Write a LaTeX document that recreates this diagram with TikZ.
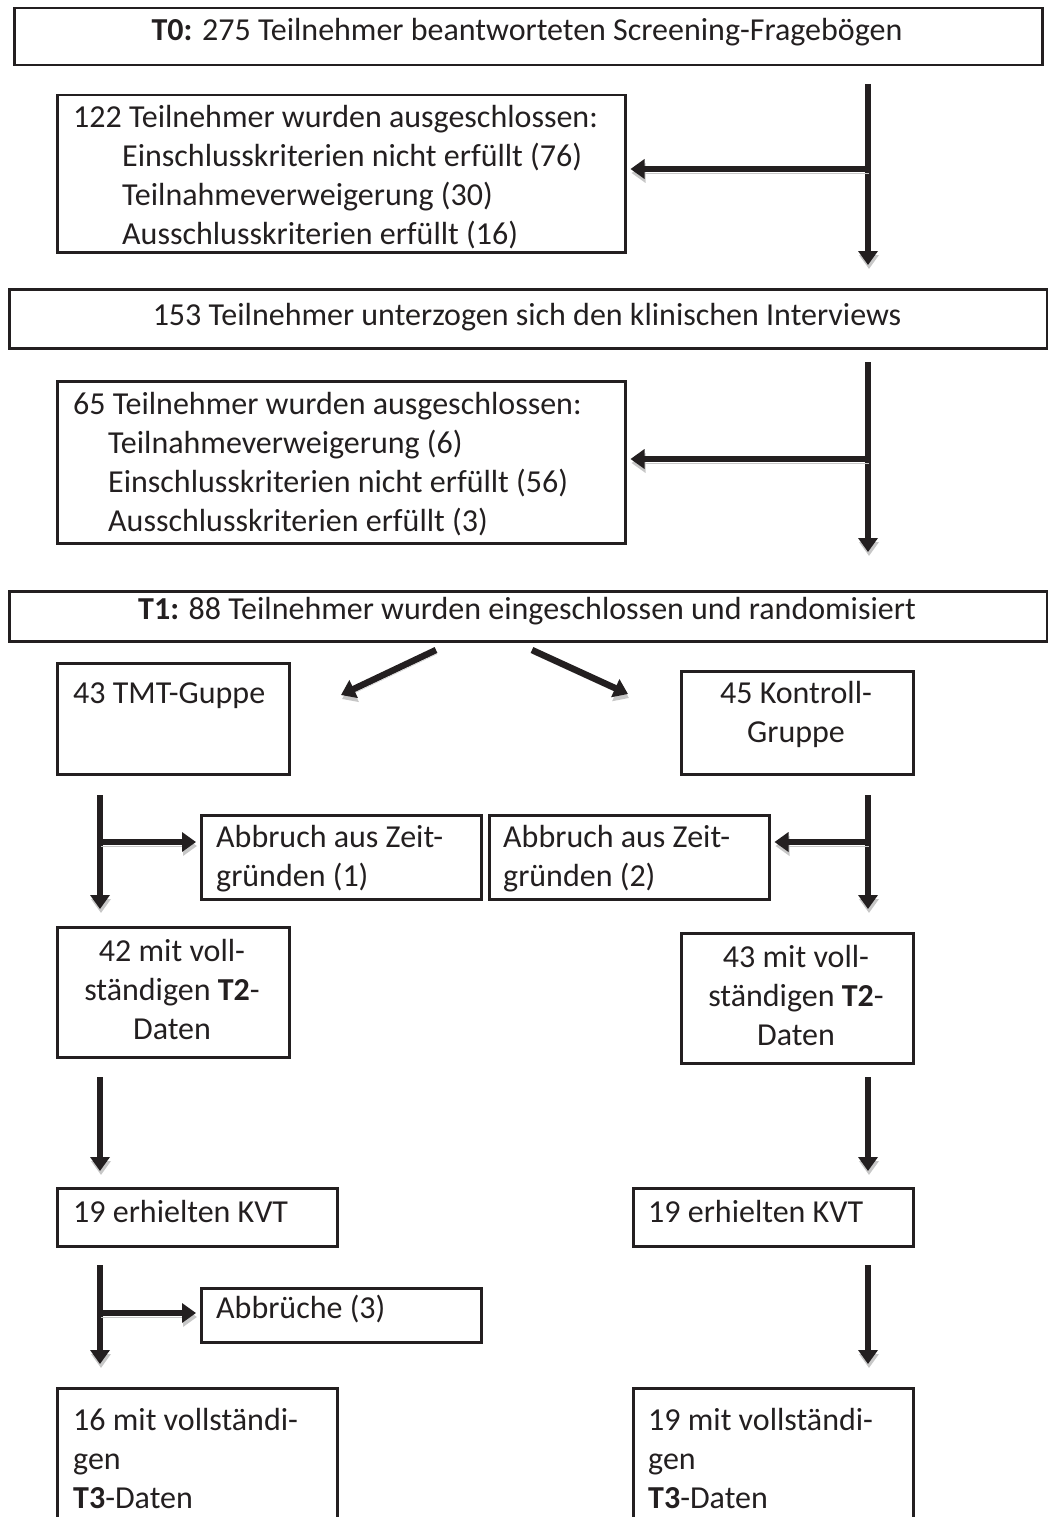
\documentclass[tikz,border=0pt]{standalone}
\usepackage{fontspec}
\setmainfont{Carlito}
\usetikzlibrary{arrows.meta}
\newcommand{\flowfont}{\fontsize{32}{39}\selectfont}
\definecolor{inkline}{RGB}{35,31,32}
\tikzset{
  flowbox/.style={draw=inkline, line width=2.5pt, rectangle, anchor=north west, inner sep=0pt},
  boxtext/.style={inner sep=0pt, anchor=north west, align=left, font=\flowfont, text=inkline},
  flowarrow/.style={draw=inkline, line width=6.5pt, -{Triangle[width=19pt,length=14pt]},
    preaction={draw=black!22, transform canvas={xshift=1pt,yshift=-4pt}}}
}
\begin{document}
\begin{tikzpicture}[x=1pt,y=1pt,yscale=-1]
\useasboundingbox (0,0) rectangle (1048,1517);
\clip (0,0) rectangle (1048,1517);

% Boxes
\node[flowbox, minimum width=1028pt, minimum height=57pt] (t0) at (13,7) {};
\node[flowbox, minimum width=568pt, minimum height=157pt] (ex1) at (56,94) {};
\node[flowbox, minimum width=1038pt, minimum height=59pt] (n153) at (8,288) {};
\node[flowbox, minimum width=568pt, minimum height=162pt] (ex2) at (56,380) {};
\node[flowbox, minimum width=1038pt, minimum height=50pt] (t1) at (8,590) {};
\node[flowbox, minimum width=232pt, minimum height=111pt] (tmt) at (56,662) {};
\node[flowbox, minimum width=232pt, minimum height=103pt] (kg) at (680,670) {};
\node[flowbox, minimum width=280pt, minimum height=84pt] (ab1) at (200,814) {};
\node[flowbox, minimum width=280pt, minimum height=84pt] (ab2) at (488,814) {};
\node[flowbox, minimum width=232pt, minimum height=130pt] (d42) at (56,926) {};
\node[flowbox, minimum width=232pt, minimum height=130pt] (d43) at (680,932) {};
\node[flowbox, minimum width=280pt, minimum height=58pt] (kvt1) at (56,1187) {};
\node[flowbox, minimum width=280pt, minimum height=58pt] (kvt2) at (632,1187) {};
\node[flowbox, minimum width=280pt, minimum height=54pt] (abb3) at (200,1287) {};
\node[flowbox, minimum width=280pt, minimum height=200pt] (d16) at (56,1387) {};
\node[flowbox, minimum width=280pt, minimum height=200pt] (d19) at (632,1387) {};

% Texts
\node[boxtext, anchor=base] (t0txt) at (527,41) {\textbf{T0:} 275 Teilnehmer beantworteten Screening-Fragebögen};
\node[boxtext] (ex1txt) at (73,100) {\strut 122 Teilnehmer wurden ausgeschlossen:\\
  \hspace*{49pt}Einschlusskriterien nicht erfüllt (76)\\
  \hspace*{49pt}Teilnahmeverweigerung (30)\\
  \hspace*{49pt}Ausschlusskriterien erfüllt (16)};
\node[boxtext, anchor=base] (n153txt) at (527,325) {153 Teilnehmer unterzogen sich den klinischen Interviews};
\node[boxtext] (ex2txt) at (73,387) {\strut 65 Teilnehmer wurden ausgeschlossen:\\
  \hspace*{35pt}Teilnahmeverweigerung (6)\\
  \hspace*{35pt}Einschlusskriterien nicht erfüllt (56)\\
  \hspace*{35pt}Ausschlusskriterien erfüllt (3)};
\node[boxtext, anchor=base] (t1txt) at (527,619) {\textbf{T1:} 88 Teilnehmer wurden eingeschlossen und randomisiert};
\node[boxtext] (tmttxt) at (73,676) {\strut 43 TMT-Guppe};
\node[boxtext, anchor=north, align=center] (kgtxt) at (796,676) {\strut 45 Kontroll-\\Gruppe};
\node[boxtext] (ab1txt) at (216,820) {\strut Abbruch aus Zeit-\\gründen (1)};
\node[boxtext] (ab2txt) at (503,820) {\strut Abbruch aus Zeit-\\gründen (2)};
\node[boxtext, anchor=north, align=center] (d42txt) at (172,934) {\strut 42 mit voll-\\ständigen \textbf{T2}-\\Daten};
\node[boxtext, anchor=north, align=center] (d43txt) at (796,940) {\strut 43 mit voll-\\ständigen \textbf{T2}-\\Daten};
\node[boxtext] (kvt1txt) at (73,1195) {\strut 19 erhielten KVT};
\node[boxtext] (kvt2txt) at (648,1195) {\strut 19 erhielten KVT};
\node[boxtext] (abb3txt) at (216,1291) {\strut Abbrüche (3)};
\node[boxtext] (d16txt) at (73,1403) {\strut 16 mit vollständi-\\gen\\\textbf{T3}-Daten};
\node[boxtext] (d19txt) at (648,1403) {\strut 19 mit vollständi-\\gen\\\textbf{T3}-Daten};

% Arrow end points
\coordinate (a1top) at (868,84);
\coordinate (a1bot) at (868,265);
\coordinate (a1mid) at (868,169);
\coordinate (a2top) at (868,362);
\coordinate (a2bot) at (868,552);
\coordinate (a2mid) at (868,459);
\coordinate (splitl) at (436,650);
\coordinate (splitr) at (532,650);
\coordinate (tipl) at (341,695);
\coordinate (tipr) at (628,694);
\coordinate (l1top) at (100,795);
\coordinate (l1bot) at (100,909);
\coordinate (l1mid) at (100,842);
\coordinate (r1top) at (868,795);
\coordinate (r1bot) at (868,909);
\coordinate (r1mid) at (868,842);
\coordinate (l2top) at (100,1077);
\coordinate (l2bot) at (100,1171);
\coordinate (r2top) at (868,1077);
\coordinate (r2bot) at (868,1171);
\coordinate (l3top) at (100,1265);
\coordinate (l3bot) at (100,1364);
\coordinate (l3mid) at (100,1313);
\coordinate (r3top) at (868,1265);
\coordinate (r3bot) at (868,1364);

% Arrows
\draw[flowarrow] (a1top) -- (a1bot);
\draw[flowarrow, shorten >=4pt] (a1mid) -- (a1mid -| ex1.east);
\draw[flowarrow] (a2top) -- (a2bot);
\draw[flowarrow, shorten >=4pt] (a2mid) -- (a2mid -| ex2.east);
\draw[flowarrow] (splitl) -- (tipl);
\draw[flowarrow] (splitr) -- (tipr);
\draw[flowarrow] (l1top) -- (l1bot);
\draw[flowarrow, shorten >=4pt] (l1mid) -- (l1mid -| ab1.west);
\draw[flowarrow] (r1top) -- (r1bot);
\draw[flowarrow, shorten >=4pt] (r1mid) -- (r1mid -| ab2.east);
\draw[flowarrow] (l2top) -- (l2bot);
\draw[flowarrow] (r2top) -- (r2bot);
\draw[flowarrow] (l3top) -- (l3bot);
\draw[flowarrow, shorten >=4pt] (l3mid) -- (l3mid -| abb3.west);
\draw[flowarrow] (r3top) -- (r3bot);
\end{tikzpicture}
\end{document}
